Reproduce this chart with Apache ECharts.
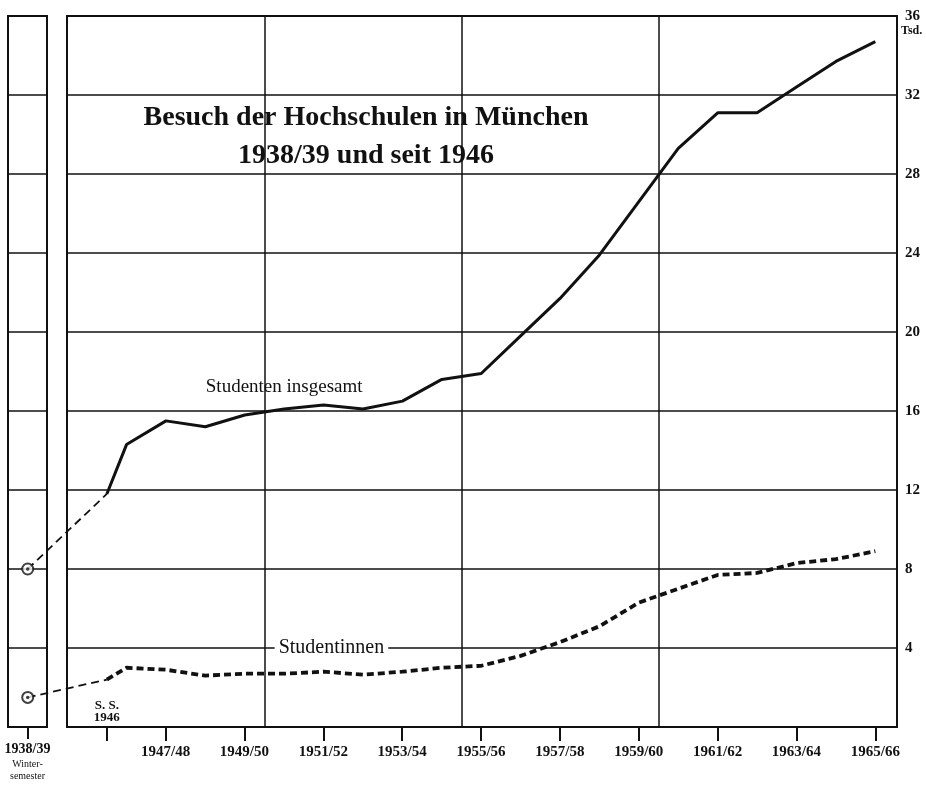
<!DOCTYPE html>
<html>
<head>
<meta charset="utf-8">
<script src="https://cdn.jsdelivr.net/npm/echarts@6/dist/echarts.min.js"></script>
<style>
  html, body { margin: 0; padding: 0; background: #fff; }
  #chart { width: 926px; height: 789px; }
</style>
</head>
<body>
<div id="chart"></div>
<script>
// x = year in which the winter semester starts (1947 -> WS 1947/48),
// S.S. 1946 sits half a year before WS 1946/47
const prewarYear = 1938;
const prewarTotal = 8.0;   // Tsd., WS 1938/39
const prewarFemale = 1.5;

const semesterYears = [1945.5, 1946, 1947, 1948, 1949, 1950, 1951, 1952, 1953, 1954,
  1955, 1956, 1957, 1958, 1959, 1960, 1961, 1962, 1963, 1964, 1965];
// Studenten insgesamt (Tsd.)
const studentsTotal = [11.8, 14.3, 15.5, 15.2, 15.8, 16.1, 16.3, 16.1, 16.5, 17.6,
  17.9, 19.8, 21.7, 23.9, 26.6, 29.3, 31.1, 31.1, 32.4, 33.7, 34.7];
// Studentinnen (Tsd.)
const studentsFemale = [2.4, 3.0, 2.9, 2.6, 2.7, 2.7, 2.8, 2.65, 2.8, 3.0,
  3.1, 3.6, 4.3, 5.1, 6.3, 7.0, 7.7, 7.8, 8.3, 8.5, 8.9];

const tickYears = [1945.5, 1947, 1949, 1951, 1953, 1955, 1957, 1959, 1961, 1963, 1965];
const tickLabels = ['', '1947/48', '1949/50', '1951/52', '1953/54', '1955/56',
  '1957/58', '1959/60', '1961/62', '1963/64', '1965/66'];
const dividerYears = [1949.5, 1954.5, 1959.5];

const ink = '#111';
const serif = 'Liberation Serif';

const pairs = (xs, ys) => xs.map((x, i) => [x, ys[i]]);

const chart = echarts.init(document.getElementById('chart'));

const frame = { show: true, borderColor: ink, borderWidth: 2, backgroundColor: 'transparent' };
const splitLine = { show: true, lineStyle: { color: ink, width: 1.5 } };

// text placed at a data position (no visible symbol)
const note = (coord, text, style) => ({
  coord: coord,
  value: text,
  symbol: 'circle',
  symbolSize: 1,
  itemStyle: { color: 'rgba(0,0,0,0)' },
  label: Object.assign({
    show: true, position: 'inside', formatter: text,
    fontFamily: serif, color: ink
  }, style)
});

const option = {
  animation: false,
  textStyle: { fontFamily: serif, color: ink },
  title: {
    text: 'Besuch der Hochschulen in München\n1938/39 und seit 1946',
    left: 366,
    top: 99,
    textAlign: 'center',
    padding: 0,
    textStyle: { fontFamily: serif, fontSize: 28, fontWeight: 'bold', lineHeight: 38, color: ink }
  },
  grid: [
    // data layer, spans both panels
    { left: 8, right: 29, top: 16, bottom: 62, outerBoundsMode: 'none' },
    // 1938/39 panel
    Object.assign({ left: 8, width: 39, top: 16, bottom: 62, outerBoundsMode: 'none' }, frame),
    // main panel
    Object.assign({ left: 67, right: 29, top: 16, bottom: 62, outerBoundsMode: 'none' }, frame)
  ],
  xAxis: [
    {
      gridIndex: 0, type: 'value', min: 1937.5, max: 1965.55, show: false,
      breaks: [{ start: 1938.5, end: 1944.5, gap: '2.25%' }],
      breakArea: { show: false }
    },
    {
      gridIndex: 1, type: 'value', min: 1937.5, max: 1938.5,
      axisLine: { show: false }, splitLine: { show: false },
      axisTick: { show: true, customValues: [prewarYear], length: 12, lineStyle: { color: ink, width: 2 } },
      axisLabel: {
        customValues: [prewarYear], margin: 13,
        formatter: () => '{a|1938/39}\n{b|Winter-}\n{b|semester}',
        rich: {
          a: { fontFamily: serif, fontSize: 14, fontWeight: 'bold', color: ink, lineHeight: 18 },
          b: { fontFamily: serif, fontSize: 10, color: ink, lineHeight: 12 }
        }
      }
    },
    {
      gridIndex: 2, type: 'value', min: 1944.5, max: 1965.55,
      axisLine: { show: false }, splitLine: { show: false },
      axisTick: { show: true, customValues: tickYears, length: 14, lineStyle: { color: ink, width: 2 } },
      axisLabel: {
        customValues: tickYears, margin: 18,
        fontFamily: serif, fontSize: 15, fontWeight: 'bold', color: ink,
        formatter: v => tickLabels[tickYears.indexOf(v)] || ''
      }
    }
  ],
  yAxis: [
    { gridIndex: 0, type: 'value', min: 0, max: 36, interval: 4, show: false },
    {
      gridIndex: 1, type: 'value', min: 0, max: 36, interval: 4,
      axisLine: { show: false }, axisTick: { show: false }, axisLabel: { show: false },
      splitLine: splitLine
    },
    {
      gridIndex: 2, type: 'value', min: 0, max: 36, interval: 4, position: 'right',
      axisLine: { show: false }, axisTick: { show: false },
      axisLabel: {
        margin: 8, fontFamily: serif, fontSize: 15, fontWeight: 'bold', color: ink, align: 'left',
        formatter: v => {
          if (v === 0) return '';
          if (v === 36) return '{gap|\u00a0}\n{n|36}\n{u|Tsd.}';
          return String(v);
        },
        rich: {
          gap: { fontSize: 12, lineHeight: 14 },
          n: { fontFamily: serif, fontSize: 15, fontWeight: 'bold', color: ink, lineHeight: 16 },
          u: { fontFamily: serif, fontSize: 12, color: ink, lineHeight: 14, padding: [0, 0, 0, -4] }
        }
      },
      splitLine: splitLine
    }
  ],
  series: [
    {
      name: 'Studenten insgesamt', type: 'line', xAxisIndex: 0, yAxisIndex: 0,
      data: pairs(semesterYears, studentsTotal),
      symbol: 'none', lineStyle: { color: ink, width: 3 }, z: 5,
      markLine: {
        silent: true, symbol: 'none', label: { show: false },
        lineStyle: { color: ink, width: 1.5, type: 'solid' },
        data: dividerYears.map(x => ({ xAxis: x }))
      },
      markPoint: {
        silent: true,
        data: [
          note([1950.0, 17.2], 'Studenten insgesamt', { fontSize: 19 }),
          note([1951.2, 4], 'Studentinnen', { fontSize: 20, backgroundColor: '#fff', padding: [0, 4] }),
          note([1945.5, 0.8], 'S. S.\n1946', { fontSize: 13, fontWeight: 'bold', lineHeight: 12 })
        ]
      }
    },
    {
      name: 'Studenten insgesamt 1938/39', type: 'line', xAxisIndex: 0, yAxisIndex: 0,
      data: [[prewarYear, prewarTotal], [semesterYears[0], studentsTotal[0]]],
      symbol: 'none', lineStyle: { color: ink, width: 1.8, type: [8, 5] }, z: 5
    },
    {
      name: 'Studentinnen', type: 'line', xAxisIndex: 0, yAxisIndex: 0,
      data: pairs(semesterYears, studentsFemale),
      symbol: 'none', lineStyle: { color: ink, width: 3.8, type: [7, 4] }, z: 5
    },
    {
      name: 'Studentinnen 1938/39', type: 'line', xAxisIndex: 0, yAxisIndex: 0,
      data: [[prewarYear, prewarFemale], [semesterYears[0], studentsFemale[0]]],
      symbol: 'none', lineStyle: { color: ink, width: 1.8, type: [8, 5] }, z: 5
    },
    {
      name: '1938/39', type: 'scatter', xAxisIndex: 0, yAxisIndex: 0,
      data: [[prewarYear, prewarTotal], [prewarYear, prewarFemale]],
      symbol: 'emptyCircle', symbolSize: 11,
      itemStyle: { color: ink, borderWidth: 1.5 }, z: 6
    },
    {
      name: '1938/39 Punkt', type: 'scatter', xAxisIndex: 0, yAxisIndex: 0,
      data: [[prewarYear, prewarTotal], [prewarYear, prewarFemale]],
      symbol: 'circle', symbolSize: 3.5,
      itemStyle: { color: ink }, z: 7
    }
  ]
};

chart.setOption(option);
</script>
</body>
</html>
